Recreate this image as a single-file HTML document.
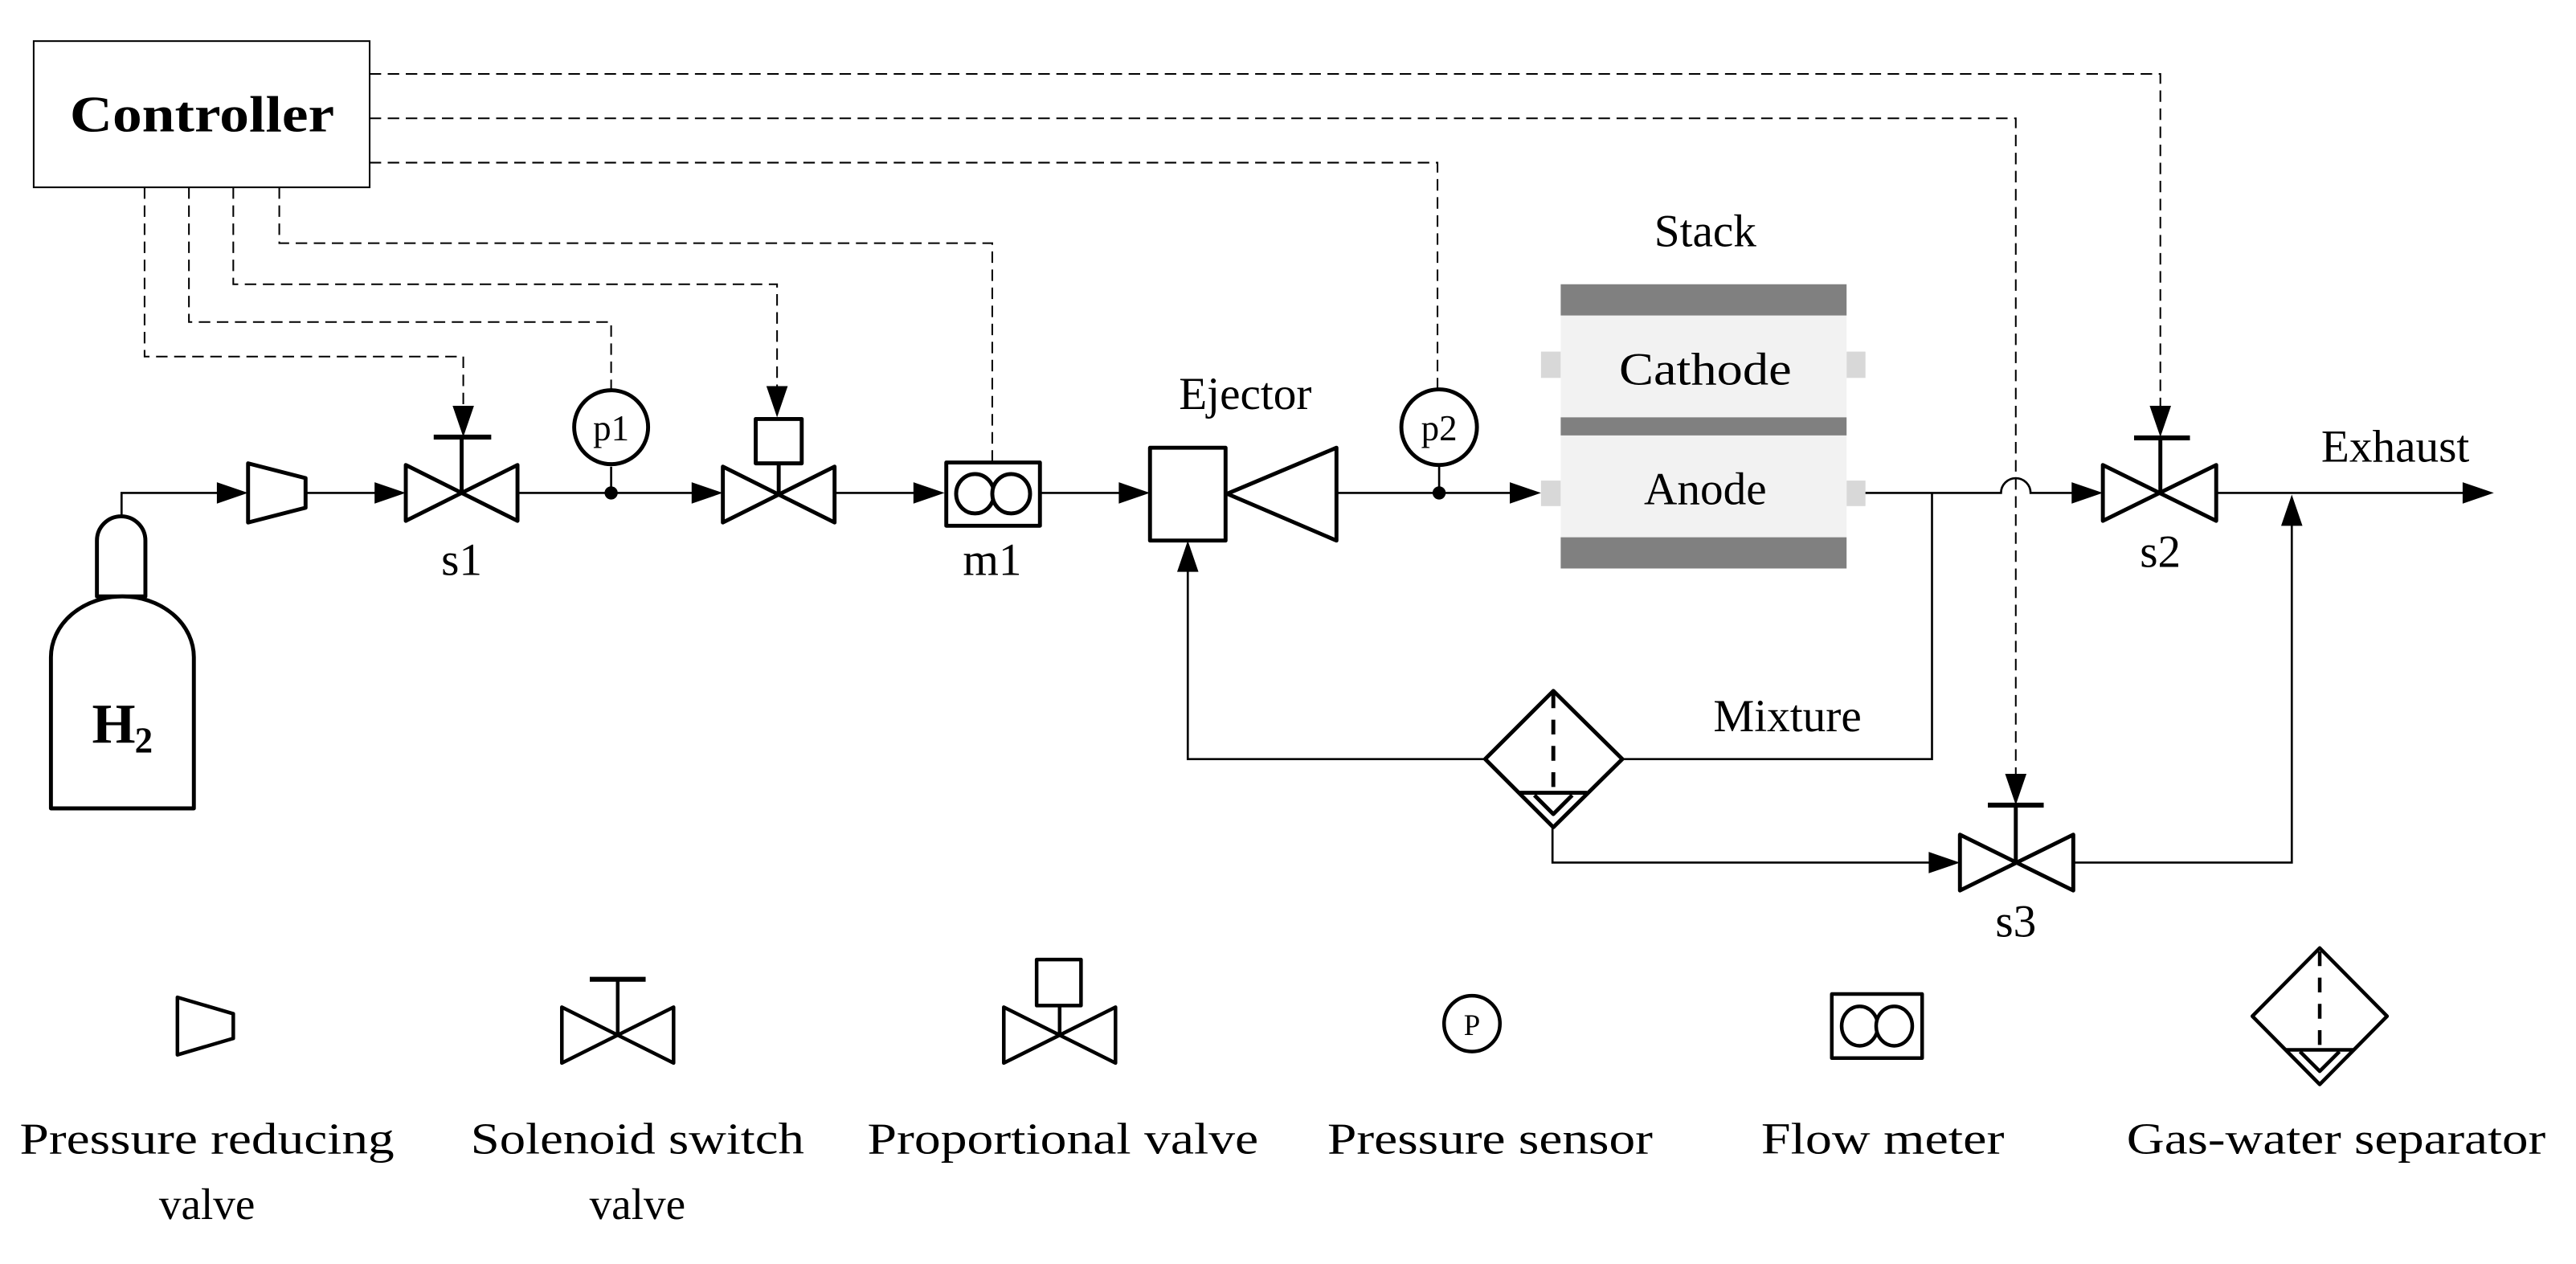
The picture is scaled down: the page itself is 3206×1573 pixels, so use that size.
<!DOCTYPE html>
<html><head><meta charset="utf-8"><style>
html,body{margin:0;padding:0;background:#fff;}
svg{display:block;}
text{font-family:"Liberation Serif",serif;fill:#000;}
</style></head><body>
<svg width="3206" height="1573" viewBox="0 0 1568 769.3" xmlns="http://www.w3.org/2000/svg">
<rect x="0" y="0" width="1568" height="770" fill="#fff"/>
<!-- Controller -->
<rect x="20.5" y="25" width="204.5" height="89" fill="#fff" stroke="#000" stroke-width="1"/>
<text x="123" y="80" font-size="31" font-weight="bold" text-anchor="middle" textLength="161" lengthAdjust="spacingAndGlyphs">Controller</text>

<!-- dashed control lines -->
<g fill="none" stroke="#000" stroke-width="1" stroke-dasharray="7,4">
<polyline points="225,45 1315,45 1315,250"/>
<polyline points="225,72 1227,72 1227,480"/>
<polyline points="225,99 875,99 875,237"/>
<polyline points="88,114 88,217 282,217 282,248"/>
<polyline points="115,114 115,196 372,196 372,237"/>
<polyline points="142,114 142,173 473,173 473,240"/>
<polyline points="170,114 170,148 604,148 604,281"/>
</g>
<g fill="#000">
<polygon points="1315,266 1308.5,247 1321.5,247"/>
<polygon points="1227,490 1220.5,471 1233.5,471"/>
<polygon points="282,266 275.5,247 288.5,247"/>
<polygon points="473,254 466.5,235 479.5,235"/>
</g>

<!-- solid flow lines -->
<g fill="none" stroke="#000" stroke-width="1.3">
<polyline points="74,315 74,300 135,300"/>
<line x1="186" y1="300" x2="230" y2="300"/>
<line x1="315" y1="300" x2="423" y2="300"/>
<line x1="508" y1="300" x2="558" y2="300"/>
<line x1="633" y1="300" x2="683" y2="300"/>
<line x1="814" y1="300" x2="921" y2="300"/>
<line x1="372" y1="284" x2="372" y2="300"/>
<line x1="876" y1="284" x2="876" y2="300"/>
<path d="M1135,300 L1218,300 A9,9 0 0 1 1236,300 L1263,300"/>
<polyline points="1176,300 1176,462 987,462"/>
<polyline points="904,462 723,462 723,347"/>
<polyline points="945,504 945,525 1176,525"/>
<polyline points="1262,525 1395,525 1395,319"/>
<line x1="1349" y1="300" x2="1502" y2="300"/>
</g>
<g fill="#000">
<polygon points="151,300 132,293.5 132,306.5"/>
<polygon points="247,300 228,293.5 228,306.5"/>
<polygon points="440,300 421,293.5 421,306.5"/>
<polygon points="575,300 556,293.5 556,306.5"/>
<polygon points="700,300 681,293.5 681,306.5"/>
<polygon points="938,300 919,293.5 919,306.5"/>
<polygon points="1280,300 1261,293.5 1261,306.5"/>
<polygon points="1518,300 1499,293.5 1499,306.5"/>
<polygon points="1193,525 1174,518.5 1174,531.5"/>
<polygon points="723,329 716.5,348 729.5,348"/>
<polygon points="1395,301 1388.5,320 1401.5,320"/>
<circle cx="372" cy="300" r="4"/>
<circle cx="876" cy="300" r="4"/>
</g>

<!-- components -->
<g fill="#fff" stroke="#000" stroke-width="2.4" stroke-linejoin="round">
<!-- H2 tank -->
<path d="M59,363 L59,329 A14.75,14.75 0 0 1 88.5,329 L88.5,363 Z"/>
<path d="M31,492 L31,400 A43.5,37 0 0 1 118,400 L118,492 Z"/>
<!-- pressure reducing -->
<polygon points="151,282 186,291 186,309 151,318"/>
<!-- s1 -->
<polygon points="247,283 315,317 315,283 247,317"/>
<line x1="281" y1="300" x2="281" y2="266"/>
<line x1="264" y1="266" x2="299" y2="266" stroke-width="3"/>
<circle cx="372" cy="260" r="22.5"/>
<!-- proportional -->
<polygon points="440,284 508,318 508,284 440,318"/>
<line x1="474" y1="300" x2="474" y2="282"/>
<rect x="460" y="255" width="28" height="27"/>
<!-- m1 -->
<rect x="576" y="281.5" width="57" height="38.5"/>
<ellipse cx="593.5" cy="300.5" rx="11.5" ry="12"/>
<ellipse cx="615.5" cy="300.5" rx="11.5" ry="12"/>
<!-- ejector -->
<rect x="700" y="272.5" width="46" height="56.5"/>
<polygon points="747,300.5 813.5,272.5 813.5,329"/>
<circle cx="876" cy="260" r="23"/>
<!-- s2 -->
<polygon points="1280,283 1349,317 1349,283 1280,317"/>
<line x1="1315" y1="300" x2="1315" y2="266.5"/>
<line x1="1299" y1="266.5" x2="1333" y2="266.5" stroke-width="3"/>
<!-- s3 -->
<polygon points="1193,508 1262,542 1262,508 1193,542"/>
<line x1="1227" y1="525" x2="1227" y2="490"/>
<line x1="1210" y1="490" x2="1244" y2="490" stroke-width="3"/>
<!-- separator -->
<polygon points="945.5,420.5 987.5,462 945.5,503.5 904,462"/>
<line x1="925" y1="482.5" x2="966" y2="482.5"/>
<polyline points="934,484 945.5,495.5 957,484" fill="none"/>
</g>
<line x1="945.5" y1="422" x2="945.5" y2="480" stroke="#000" stroke-width="2.4" stroke-dasharray="9,7"/>

<!-- Stack -->
<rect x="938" y="214" width="12" height="16" fill="#d8d8d8"/>
<rect x="1124" y="214" width="11.5" height="16" fill="#d8d8d8"/>
<rect x="938" y="292.5" width="12" height="15.5" fill="#d8d8d8"/>
<rect x="1124" y="292.5" width="11.5" height="15.5" fill="#d8d8d8"/>
<rect x="950" y="173" width="174" height="173" fill="#f2f2f2"/>
<rect x="950" y="173" width="174" height="19" fill="#808080"/>
<rect x="950" y="254" width="174" height="11" fill="#808080"/>
<rect x="950" y="327" width="174" height="19" fill="#808080"/>

<!-- labels -->
<g font-size="28">
<text x="1038" y="150" text-anchor="middle">Stack</text>
<text x="1038" y="234" text-anchor="middle" textLength="105" lengthAdjust="spacingAndGlyphs">Cathode</text>
<text x="1038" y="307" text-anchor="middle">Anode</text>
<text x="758" y="249" text-anchor="middle">Ejector</text>
<text x="1458" y="281" text-anchor="middle">Exhaust</text>
<text x="1088" y="445" text-anchor="middle">Mixture</text>
<text x="281" y="350" text-anchor="middle">s1</text>
<text x="604" y="350" text-anchor="middle">m1</text>
<text x="1315" y="345" text-anchor="middle">s2</text>
<text x="1227" y="570" text-anchor="middle">s3</text>
</g>
<text x="372" y="268" font-size="22" text-anchor="middle">p1</text>
<text x="876" y="268" font-size="22" text-anchor="middle">p2</text>
<text x="56" y="452" font-size="34" font-weight="bold">H</text>
<text x="82" y="458" font-size="22" font-weight="bold">2</text>

<!-- Legend -->
<g fill="#fff" stroke="#000" stroke-width="2.2" stroke-linejoin="round">
<polygon points="108,607 142,617 142,632 108,642"/>
<polygon points="342,613 410,647 410,613 342,647"/>
<line x1="376" y1="630" x2="376" y2="596"/>
<line x1="359" y1="596" x2="393" y2="596" stroke-width="3"/>
<polygon points="611,613 679,647 679,613 611,647"/>
<line x1="645" y1="630" x2="645" y2="612"/>
<rect x="631" y="584" width="27" height="28"/>
<circle cx="896" cy="623" r="17"/>
<rect x="1115" y="605" width="55" height="39"/>
<ellipse cx="1132" cy="624.5" rx="11" ry="12"/>
<ellipse cx="1153" cy="624.5" rx="11" ry="12"/>
<polygon points="1412,577 1453,618.5 1412,660 1371,618.5"/>
<line x1="1391" y1="639" x2="1433" y2="639"/>
<polyline points="1400,640 1412,652 1424,640" fill="none"/>
</g>
<line x1="1412" y1="579" x2="1412" y2="636" stroke="#000" stroke-width="2.2" stroke-dasharray="9,7"/>
<text x="896" y="630" font-size="18" text-anchor="middle">P</text>
<g font-size="27" text-anchor="middle">
<text x="126" y="702" textLength="228" lengthAdjust="spacingAndGlyphs">Pressure reducing</text>
<text x="126" y="742">valve</text>
<text x="388" y="702" textLength="203" lengthAdjust="spacingAndGlyphs">Solenoid switch</text>
<text x="388" y="742">valve</text>
<text x="647" y="702" textLength="238" lengthAdjust="spacingAndGlyphs">Proportional valve</text>
<text x="907" y="702" textLength="198" lengthAdjust="spacingAndGlyphs">Pressure sensor</text>
<text x="1146" y="702" textLength="148" lengthAdjust="spacingAndGlyphs">Flow meter</text>
<text x="1422" y="702" textLength="255" lengthAdjust="spacingAndGlyphs">Gas-water separator</text>
</g>
</svg>
</body></html>
